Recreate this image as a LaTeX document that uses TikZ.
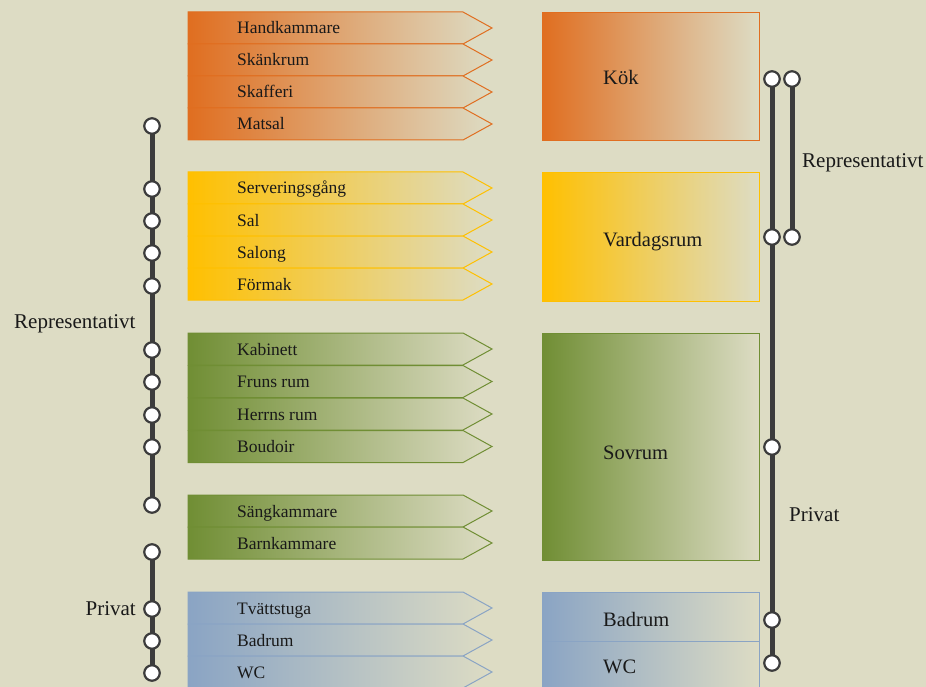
\documentclass[tikz,border=0pt]{standalone}
\usepackage{fontspec}
\setmainfont{Liberation Serif}
\definecolor{bg}{RGB}{221,220,196}
\definecolor{orng}{RGB}{224,110,32}
\definecolor{yell}{RGB}{255,192,0}
\definecolor{grn}{RGB}{112,142,52}
\definecolor{blu}{RGB}{138,164,196}
\definecolor{rail}{RGB}{60,60,60}
\definecolor{ink}{RGB}{25,25,25}
\pgfdeclarelayer{back}
\pgfdeclarelayer{lines}
\pgfsetlayers{back,lines,main}
\tikzset{
  roomtext/.style={anchor=west, inner sep=0pt, text=ink, text height=12pt, text depth=0pt, font=\fontsize{17.5}{20}\selectfont},
  bigtext/.style={anchor=west, inner sep=0pt, text=ink, text height=14pt, text depth=0pt, font=\fontsize{20.5}{24}\selectfont},
  sidetext/.style={inner sep=0pt, text=ink, text height=14.3pt, text depth=0pt, font=\fontsize{21}{25}\selectfont},
  dot/.style={circle, fill=white, draw=rail, line width=2.2pt, minimum size=15.5pt, inner sep=0pt},
  railline/.style={draw=rail, line width=5pt},
}
\newcommand{\sarrow}[4]{%
  \shade[left color=#1, right color=bg, draw=#1, line width=1pt]
    (188,#2) -- (463,#2) -- (492,#2+16) -- (463,#2+32) -- (188,#2+32) -- cycle;
  \node[roomtext] (#4) at (237,#2+16) {#3};}
\newcommand{\bigbox}[6]{%
  \shade[left color=#1, right color=bg, draw=#1, line width=1pt] (542,#2) rectangle (759,#3);
  \node[bigtext] (#6) at (603,#4) {#5};}
\begin{document}
\begin{tikzpicture}[x=1pt,y=-1pt]
\begin{pgfonlayer}{back}
\fill[bg] (0,0) rectangle (926,687);
\end{pgfonlayer}
\useasboundingbox (0,0) rectangle (926,687);
\clip (0,0) rectangle (926,687);
% group 1
\sarrow{orng}{12}{Handkammare}{t1}
\sarrow{orng}{44}{Skänkrum}{t2}
\sarrow{orng}{76}{Skafferi}{t3}
\sarrow{orng}{108}{Matsal}{t4}
% group 2
\sarrow{yell}{172}{Serveringsgång}{t5}
\sarrow{yell}{204}{Sal}{t6}
\sarrow{yell}{236}{Salong}{t7}
\sarrow{yell}{268}{Förmak}{t8}
% group 3
\sarrow{grn}{333}{Kabinett}{t9}
\sarrow{grn}{365.5}{Fruns rum}{t10}
\sarrow{grn}{398}{Herrns rum}{t11}
\sarrow{grn}{430.5}{Boudoir}{t12}
% group 4
\sarrow{grn}{495}{Sängkammare}{t13}
\sarrow{grn}{527}{Barnkammare}{t14}
% group 5
\sarrow{blu}{592}{Tvättstuga}{t15}
\sarrow{blu}{624}{Badrum}{t16}
\sarrow{blu}{656}{WC}{t17}
% big boxes
\bigbox{orng}{13}{141}{78}{Kök}{b1}
\bigbox{yell}{173}{301}{239}{Vardagsrum}{b2}
\bigbox{grn}{333}{560}{452}{Sovrum}{b3}
\bigbox{blu}{592}{641}{619}{Badrum}{b4}
\bigbox{blu}{641}{700}{666}{WC}{b5}
% left rail dots
\foreach \n/\y in {1/126,2/189,3/221,4/253,5/286,6/350,7/382,8/415,9/447,10/505,11/552,12/609,13/641,14/673}
  \node[dot] (l\n) at (152,\y) {};
% right rail dots
\foreach \n/\y in {1/79,2/237,3/447,4/620,5/663}
  \node[dot] (r\n) at (772,\y) {};
\node[dot] (s1) at (792,79) {};
\node[dot] (s2) at (792,237) {};
\begin{pgfonlayer}{lines}
\draw[railline] (l1.center) -- (l10.center);
\draw[railline] (l11.center) -- (l14.center);
\draw[railline] (r1.center) -- (r5.center);
\draw[railline] (s1.center) -- (s2.center);
\end{pgfonlayer}
% labels
\node[sidetext, anchor=west] (repL) at (14,321) {Representativt};
\node[sidetext, anchor=east] (privL) at (136,608) {Privat};
\node[sidetext, anchor=west] (repR) at (802,160) {Representativt};
\node[sidetext, anchor=west] (privR) at (789,514) {Privat};
\end{tikzpicture}
\end{document}
